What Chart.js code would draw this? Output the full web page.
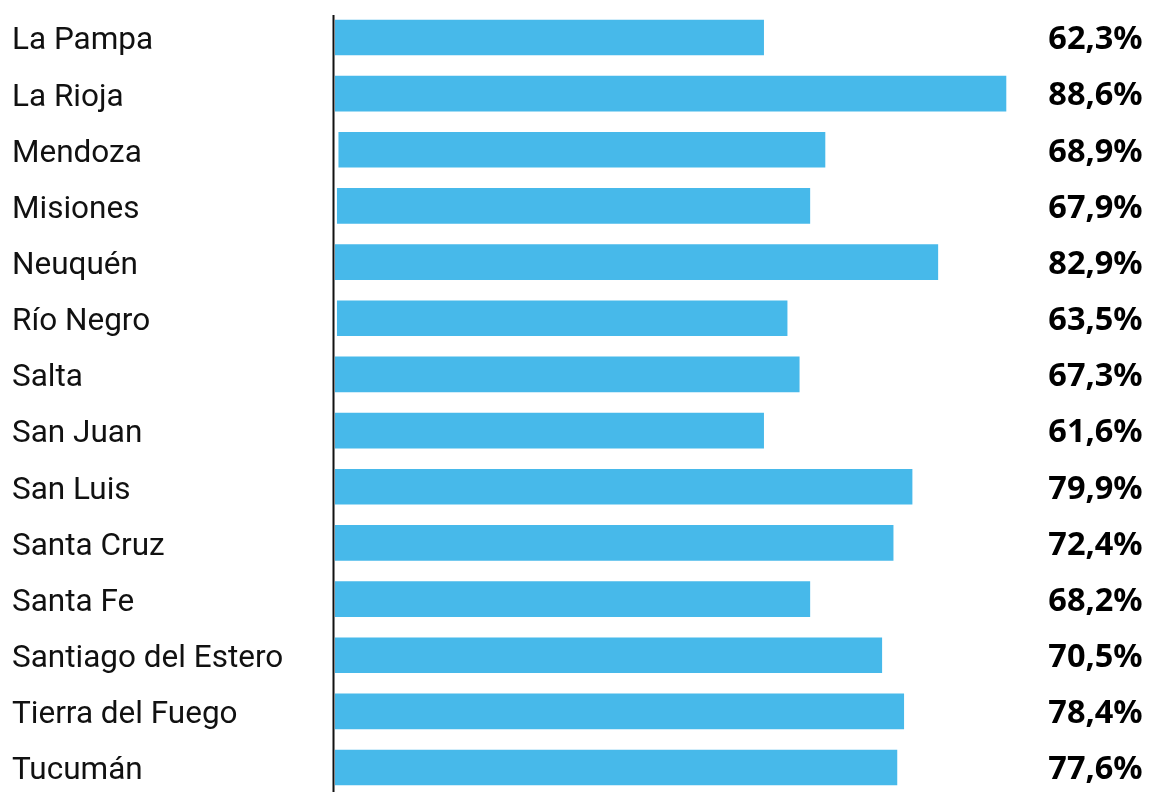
<!DOCTYPE html>
<html>
<head>
<meta charset="utf-8">
<script src="https://cdn.jsdelivr.net/npm/chart.js@4.4.1/dist/chart.umd.min.js"></script>
<style>
html, body { margin: 0; padding: 0; background: #fff; overflow: hidden; }
#wrap { position: relative; width: 1155px; height: 800px; }
</style>
</head>
<body>
<div id="wrap"><canvas id="myChart"></canvas></div>
<script>
const provinces = ['La Pampa', 'La Rioja', 'Mendoza', 'Misiones', 'Neuquén', 'Río Negro', 'Salta',
    'San Juan', 'San Luis', 'Santa Cruz', 'Santa Fe', 'Santiago del Estero', 'Tierra del Fuego', 'Tucumán'];
// bar extents as drawn (0-100 scale)
const barStarts = [0, 0, 0.5, 0.3, 0, 0.3, 0, 0, 0, 0, 0, 0, 0, 0];
const barEnds = [56.6, 88.6, 64.7, 62.7, 79.6, 59.7, 61.3, 56.6, 76.2, 73.7, 62.7, 72.2, 75.1, 74.2];
// printed values
const shareLabels = ['62,3%', '88,6%', '68,9%', '67,9%', '82,9%', '63,5%', '67,3%',
    '61,6%', '79,9%', '72,4%', '68,2%', '70,5%', '78,4%', '77,6%'];

const axisLine = {
    id: 'axisLine',
    afterDatasetsDraw(chart) {
        const ctx = chart.ctx;
        const area = chart.chartArea;
        ctx.save();
        ctx.strokeStyle = '#111';
        ctx.lineWidth = 2;
        ctx.beginPath();
        ctx.moveTo(area.left - 1.5, area.top + 5.5);
        ctx.lineTo(area.left - 1.5, area.bottom);
        ctx.stroke();
        ctx.restore();
    }
};

const valueLabels = {
    id: 'valueLabels',
    afterDatasetsDraw(chart) {
        const ctx = chart.ctx;
        const meta = chart.getDatasetMeta(0);
        ctx.save();
        ctx.font = 'bold 32.5px "Noto Sans"';
        ctx.fillStyle = '#000';
        ctx.textAlign = 'left';
        ctx.textBaseline = 'middle';
        meta.data.forEach(function (bar, i) {
            ctx.fillText(shareLabels[i], chart.chartArea.right - 44, bar.y + 2.5);
        });
        ctx.restore();
    }
};

const data = {
    labels: provinces,
    datasets: [{
        data: provinces.map((p, i) => [barStarts[i], barEnds[i]]),
        backgroundColor: '#47B9EA',
        borderWidth: 0,
        borderSkipped: false,
        barThickness: 35
    }]
};

const config = {
    type: 'bar',
    data: data,
    options: {
        indexAxis: 'y',
        responsive: true,
        maintainAspectRatio: false,
        animation: false,
        layout: {
            padding: { left: 12, top: 9.4, bottom: 4.4, right: 62.7 }
        },
        plugins: {
            legend: { display: false },
            tooltip: { enabled: false }
        },
        scales: {
            x: {
                display: false,
                min: 0,
                max: 100
            },
            y: {
                grid: { display: false },
                border: { display: false },
                ticks: {
                    crossAlign: 'far',
                    padding: 0,
                    labelOffset: 4,
                    color: '#111',
                    font: { family: 'Roboto', size: 31.5 }
                },
                afterFit(scale) {
                    scale.width = 323;
                    scale.paddingTop = 0;
                    scale.paddingBottom = 0;
                }
            }
        }
    },
    plugins: [axisLine, valueLabels]
};

new Chart(document.getElementById('myChart'), config);
</script>
</body>
</html>
